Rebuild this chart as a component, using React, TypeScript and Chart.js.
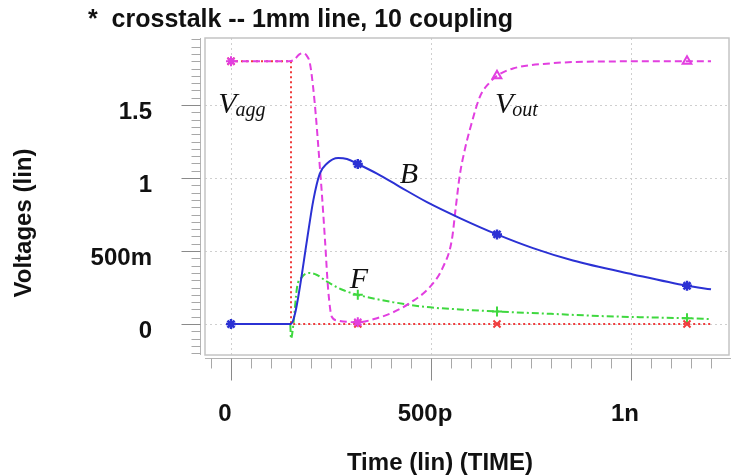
import React, { useEffect, useRef } from 'react';
import { Chart, registerables } from 'chart.js';

Chart.register(...registerables);

// ---------- texts ----------
const titleText = '*  crosstalk -- 1mm line, 10 coupling';
const xAxisTitle = 'Time (lin) (TIME)';
const yAxisTitle = 'Voltages (lin)';

// ---------- ticks ----------
const xTickValues = [0, 500, 1000]; // ps
const xTickLabels = ['0', '500p', '1n'];
const yTickValues = [0, 0.5, 1, 1.5]; // V
const yTickLabels = ['0', '500m', '1', '1.5'];

// ---------- marker positions (time, ps) ----------
const markerTimes = [0, 317, 665, 1140];
const voutMarkerStyles = ['star', 'star', 'triangle', 'triangle'];

// ---------- series (time in ps, voltage in V) ----------
const tVagg = [0, 150, 150, 317, 665, 1140, 1200];
const vVagg = [1.8, 1.8, 0, 0, 0, 0, 0];

const tVout = [0, 145, 158, 170, 180, 190, 197, 205, 212, 217, 222, 227, 235, 243, 252, 265, 290, 317, 365, 405, 447, 497, 530, 552, 562, 572, 585, 597, 622, 645, 665, 705, 797, 922, 1140, 1200];
const vVout = [1.8, 1.8, 1.81, 1.845, 1.856, 1.835, 1.79, 1.63, 1.43, 1.26, 1.08, 0.9, 0.575, 0.233, 0.05, 0.025, 0.015, 0.012, 0.04, 0.08, 0.144, 0.253, 0.39, 0.575, 0.8, 1.02, 1.2, 1.33, 1.555, 1.65, 1.7, 1.75, 1.785, 1.798, 1.8, 1.8];

const tB = [0, 150, 160, 172, 190, 206, 222, 240, 268, 290, 317, 365, 422, 490, 572, 665, 755, 855, 1005, 1140, 1200];
const vB = [0, 0, 0.07, 0.25, 0.575, 0.85, 1.03, 1.1, 1.137, 1.13, 1.096, 1.03, 0.94, 0.835, 0.726, 0.614, 0.52, 0.435, 0.34, 0.262, 0.238];

const tF = [0, 148, 150, 156, 165, 177, 195, 215, 240, 280, 317, 405, 490, 572, 665, 800, 922, 1040, 1140, 1200];
const vF = [0, 0, -0.1, 0, 0.25, 0.32, 0.35, 0.336, 0.29, 0.233, 0.2, 0.15, 0.116, 0.1, 0.086, 0.07, 0.055, 0.046, 0.04, 0.034];

// ---------- annotations (data coordinates of text baseline start) ----------
const annotations = [
  { main: 'V', sub: 'agg', t: -32, v: 1.445 },
  { main: 'V', sub: 'out', t: 660, v: 1.445 },
  { main: 'B', sub: '', t: 422, v: 0.966 },
  { main: 'F', sub: '', t: 297, v: 0.247 },
];

// ---------- styling ----------
const SANS = '"Liberation Sans", Arial, Helvetica, sans-serif';
const SERIF = '"Liberation Serif", "Times New Roman", serif';
const BLUE = '#2b31d4';
const PINK = '#e23fe0';
const RED = '#f03c3c';
const GREEN = '#3fd83f';
const TEXT = '#111111';

const X_MIN = -65, X_MAX = 1245, X_MINOR = 50, X_MAJOR = 500;
const Y_MIN = -0.212, Y_MAX = 1.959, Y_MINOR = 0.05, Y_MAJOR = 0.5;

const toPoints = (t: number[], v: number[]) => t.map((x, i) => ({ x, y: v[i] }));
const isMultiple = (v: number, step: number) => Math.abs(v / step - Math.round(v / step)) < 1e-6;
const labelFor = (value: number, vals: number[], labels: string[]) => {
  const i = vals.findIndex((tv) => Math.abs(tv - value) < 1e-6);
  return i >= 0 ? labels[i] : '';
};
const isMarker = (ctx: any) => ctx.type === 'data' && ctx.raw && markerTimes.includes(ctx.raw.x);
const markerRadius = (r: number) => (ctx: any) => (isMarker(ctx) ? r : 0);
const noScalePadding = (s: any) => {
  s.paddingTop = 0;
  s.paddingBottom = 0;
  s.paddingLeft = 0;
  s.paddingRight = 0;
};

const framePlugin = {
  id: 'frameAndText',
  beforeDatasetsDraw(chart: any) {
    const { ctx, chartArea } = chart;
    const { left, right, top, bottom } = chartArea;
    const xs = chart.scales.x;
    const ys = chart.scales.y;
    ctx.save();
    // plot box
    ctx.strokeStyle = '#c4c4c4';
    ctx.lineWidth = 1.5;
    ctx.strokeRect(left, top, right - left, bottom - top);
    // left tick strip
    const sx = left - 4.5;
    ctx.lineWidth = 1;
    ctx.strokeStyle = '#b4b4b4';
    ctx.beginPath();
    ctx.moveTo(sx, top);
    ctx.lineTo(sx, bottom);
    ctx.stroke();
    ys.ticks.forEach((tk: any) => {
      if (!isMultiple(tk.value, Y_MINOR)) return;
      const major = isMultiple(tk.value, Y_MAJOR);
      const py = Math.round(ys.getPixelForValue(tk.value)) + 0.5;
      ctx.strokeStyle = major ? '#8a8a8a' : '#a8a8a8';
      ctx.beginPath();
      ctx.moveTo(sx - (major ? 19 : 9), py);
      ctx.lineTo(sx, py);
      ctx.stroke();
    });
    // bottom tick strip
    const sy = bottom + 3.5;
    ctx.strokeStyle = '#b4b4b4';
    ctx.beginPath();
    ctx.moveTo(left, sy);
    ctx.lineTo(right + 2, sy);
    ctx.stroke();
    xs.ticks.forEach((tk: any) => {
      if (!isMultiple(tk.value, X_MINOR)) return;
      const major = isMultiple(tk.value, X_MAJOR);
      const px = Math.round(xs.getPixelForValue(tk.value)) + 0.5;
      ctx.strokeStyle = major ? '#8a8a8a' : '#a8a8a8';
      ctx.beginPath();
      ctx.moveTo(px, sy);
      ctx.lineTo(px, sy + (major ? 22 : 10));
      ctx.stroke();
    });
    ctx.restore();
  },
  afterDraw(chart: any) {
    const { ctx } = chart;
    const xs = chart.scales.x;
    const ys = chart.scales.y;
    ctx.save();
    ctx.fillStyle = TEXT;
    ctx.textBaseline = 'alphabetic';
    // chart title
    ctx.font = `bold 25px ${SANS}`;
    ctx.textAlign = 'left';
    ctx.fillText(titleText, 88, 27);
    // x axis title
    ctx.font = `bold 24px ${SANS}`;
    ctx.textAlign = 'center';
    ctx.fillText(xAxisTitle, 440, 470);
    // y axis title
    ctx.save();
    ctx.translate(31, 223);
    ctx.rotate(-Math.PI / 2);
    ctx.fillText(yAxisTitle, 0, 0);
    ctx.restore();
    // curve annotations
    ctx.textAlign = 'left';
    annotations.forEach((a) => {
      const px = xs.getPixelForValue(a.t);
      const py = ys.getPixelForValue(a.v);
      ctx.font = `italic 30px ${SERIF}`;
      ctx.fillText(a.main, px, py);
      if (a.sub) {
        const w = ctx.measureText(a.main).width;
        ctx.font = `italic 20px ${SERIF}`;
        ctx.fillText(a.sub, px + w - 1, py + 3);
      }
    });
    ctx.restore();
  },
};

export default function App() {
  const canvasRef = useRef<HTMLCanvasElement | null>(null);

  useEffect(() => {
    if (!canvasRef.current) return;
    const tickFont = { family: SANS, size: 24, weight: 'bold' as const };
    const chart = new Chart(canvasRef.current, {
      type: 'line',
      data: {
        datasets: [
          {
            label: 'B',
            data: toPoints(tB, vB),
            borderColor: BLUE,
            borderWidth: 2,
            cubicInterpolationMode: 'monotone',
            fill: false,
            pointStyle: 'star',
            pointRadius: markerRadius(5),
            pointBorderColor: BLUE,
            pointBackgroundColor: BLUE,
            pointBorderWidth: 2.5,
          },
          {
            label: 'Vout',
            data: toPoints(tVout, vVout),
            borderColor: PINK,
            borderWidth: 2,
            borderDash: [7, 4],
            cubicInterpolationMode: 'monotone',
            fill: false,
            pointStyle: (ctx: any) => {
              const i = ctx.raw ? markerTimes.indexOf(ctx.raw.x) : -1;
              return (i >= 0 ? voutMarkerStyles[i] : 'star') as any;
            },
            pointRadius: markerRadius(5),
            pointBorderColor: PINK,
            pointBackgroundColor: 'rgba(0,0,0,0)',
            pointBorderWidth: 2,
          },
          {
            label: 'Vagg',
            data: toPoints(tVagg, vVagg),
            borderColor: RED,
            borderWidth: 2,
            borderDash: [2, 3],
            tension: 0,
            fill: false,
            pointStyle: 'crossRot',
            pointRadius: markerRadius(5),
            pointBorderColor: RED,
            pointBorderWidth: 2,
          },
          {
            label: 'F',
            data: toPoints(tF, vF),
            borderColor: GREEN,
            borderWidth: 2,
            borderDash: [7, 3, 2, 3],
            cubicInterpolationMode: 'monotone',
            fill: false,
            pointStyle: 'cross',
            pointRadius: markerRadius(5),
            pointBorderColor: GREEN,
            pointBorderWidth: 2,
          },
        ],
      } as any,
      options: {
        animation: false,
        responsive: false,
        devicePixelRatio: 1,
        events: [],
        layout: { autoPadding: false, padding: { left: 0, top: 38, right: 2, bottom: 0 } },
        plugins: {
          legend: { display: false },
          tooltip: { enabled: false },
          title: { display: false },
        },
        scales: {
          x: {
            type: 'linear',
            min: X_MIN,
            max: X_MAX,
            afterFit: (s: any) => {
              s.height = 121;
              noScalePadding(s);
            },
            ticks: {
              stepSize: X_MINOR,
              includeBounds: false,
              autoSkip: false,
              maxRotation: 0,
              minRotation: 0,
              padding: 45,
              labelOffset: -6,
              color: TEXT,
              font: tickFont,
              callback: (v: any) => labelFor(Number(v), xTickValues, xTickLabels),
            },
            grid: {
              drawTicks: false,
              lineWidth: 1,
              color: (c: any) => (c.tick && isMultiple(c.tick.value, X_MAJOR) ? '#cfcfcf' : 'rgba(0,0,0,0)'),
            },
            border: { display: false, dash: [2, 3] },
          },
          y: {
            type: 'linear',
            min: Y_MIN,
            max: Y_MAX,
            afterFit: (s: any) => {
              s.width = 205;
              noScalePadding(s);
            },
            ticks: {
              stepSize: Y_MINOR,
              includeBounds: false,
              autoSkip: false,
              padding: 53,
              labelOffset: 7,
              color: TEXT,
              font: tickFont,
              callback: (v: any) => labelFor(Number(v), yTickValues, yTickLabels),
            },
            grid: {
              drawTicks: false,
              lineWidth: 1,
              color: (c: any) => (c.tick && isMultiple(c.tick.value, Y_MAJOR) ? '#cfcfcf' : 'rgba(0,0,0,0)'),
            },
            border: { display: false, dash: [2, 3] },
          },
        },
      } as any,
      plugins: [framePlugin],
    });
    return () => chart.destroy();
  }, []);

  return (
    <div style={{ position: 'fixed', left: 0, top: 0, width: 731, height: 476, background: '#ffffff' }}>
      <canvas ref={canvasRef} width={731} height={476} style={{ display: 'block', width: 731, height: 476 }} />
    </div>
  );
}
